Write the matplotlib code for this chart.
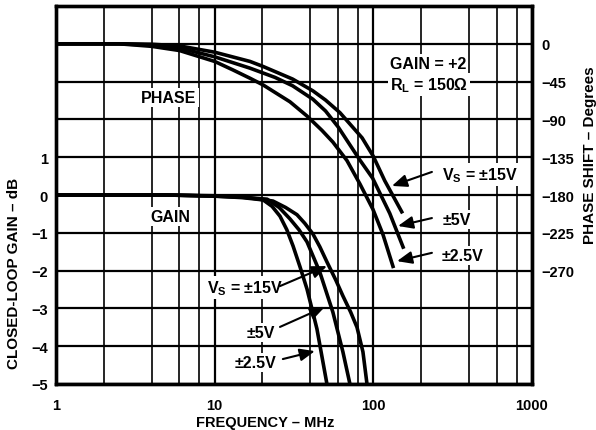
import matplotlib
matplotlib.use('Agg')
import matplotlib.pyplot as plt
import numpy as np

plt.rcParams['font.family'] = ['Liberation Sans', 'DejaVu Sans']
plt.rcParams['font.weight'] = 'bold'
plt.rcParams['mathtext.fontset'] = 'custom'
plt.rcParams['mathtext.bf'] = 'Liberation Sans:bold'
plt.rcParams['mathtext.rm'] = 'Liberation Sans:bold'

# gain curves (MHz, dB)
f_g15 = [1, 5, 10, 15, 23.3, 28, 33, 37, 41.6, 46, 51, 58, 64.3, 72, 78.9, 86, 91.2]
g_g15 = [0, 0, -0.02, -0.05, -0.16, -0.33, -0.52, -0.75, -1.03, -1.37, -1.77, -2.25, -2.67, -3.1, -3.5, -4.15, -5.0]
f_g5 = [1, 5, 10, 15, 21.4, 25.5, 29.8, 34, 38.2, 46, 55.6, 64.3, 71.2]
g_g5 = [0, 0, -0.03, -0.06, -0.11, -0.33, -0.63, -0.92, -1.24, -2.04, -3.10, -4.15, -5.0]
f_g25 = [1, 5, 10, 15, 20.2, 23, 25.8, 28.5, 31.2, 34.5, 38.2, 44.1, 51]
g_g25 = [0, 0, -0.03, -0.07, -0.13, -0.3, -0.56, -0.92, -1.35, -1.9, -2.49, -3.54, -5.0]

# phase curves (MHz, degrees)
f_p15 = [1, 2.5, 4, 6, 10, 16.7, 20.2, 31, 41.6, 50, 61.6, 85, 100, 118, 151]
p_p15 = [0, 0, -0.5, -2.5, -10, -21, -27, -42, -56, -67, -82, -112, -134, -163, -200]
f_p5 = [1, 2.5, 4, 6, 10, 16.7, 24, 31, 41.6, 50, 60, 82, 99, 127, 154]
p_p5 = [0, 0, -1.5, -5, -15.5, -29, -40, -50, -66, -80, -99, -138, -160, -202, -242]
f_p25 = [1, 2.5, 4, 6, 10, 13, 16.7, 20.2, 29.8, 38.2, 47.4, 55.6, 68.2, 82.4, 99.4, 115, 133]
p_p25 = [0, 0, -3, -8, -21, -31, -41, -49, -69, -86, -103, -117, -139, -167, -197, -227, -265]

gain_ticks = [-5, -4, -3, -2, -1, 0, 1, 2, 3, 4, 5]
gain_labels = ['\u22125', '\u22124', '\u22123', '\u22122', '\u22121', '0', '1', '', '', '', '']
phase_ticks = [0, -45, -90, -135, -180, -225, -270]
phase_labels = ['0', '\u221245', '\u221290', '\u2212135', '\u2212180', '\u2212225', '\u2212270']
x_major = [1, 10, 100, 1000]
x_minor = [2, 4, 6, 8, 20, 40, 60, 80, 200, 400, 600, 800]

fig = plt.figure(figsize=(5.96, 4.31), dpi=100)
ax = fig.add_axes([56/596, 1-385/431, 476/596, 378/431])
ax.set_xscale('log')
ax.set_xlim(1, 1000)
ax.set_ylim(-5, 5)
ax.xaxis.set_major_locator(matplotlib.ticker.FixedLocator(x_major))
ax.xaxis.set_minor_locator(matplotlib.ticker.FixedLocator(x_minor))
ax.set_xticklabels(['1', '10', '100', '1000'], fontsize=10.5, fontweight='bold')
ax.xaxis.set_minor_formatter(matplotlib.ticker.NullFormatter())
ax.set_yticks(gain_ticks)
ax.set_yticklabels(gain_labels, fontsize=10.5, fontweight='bold')
ax.tick_params(which='both', length=0)
ax.tick_params(axis='x', pad=10)
ax.tick_params(axis='y', pad=6)
ax.grid(which='major', color='k', lw=1.6)
ax.grid(which='minor', axis='x', color='k', lw=1.2)
ax.set_axisbelow(True)
for s in ax.spines.values():
    s.set_linewidth(2.4)

lw = 2.6
ax.plot(f_g15, g_g15, color='k', lw=lw, zorder=4, solid_joinstyle='round')
ax.plot(f_g5, g_g5, color='k', lw=lw, zorder=4, solid_joinstyle='round')
ax.plot(f_g25, g_g25, color='k', lw=lw, zorder=4, solid_joinstyle='round')

ax2 = ax.twinx()
ax2.set_ylim(-405, 45)
ax2.set_yticks(phase_ticks)
ax2.set_yticklabels(phase_labels, fontsize=10.5, fontweight='bold')
ax2.tick_params(length=0, pad=7)
for s in ax2.spines.values():
    s.set_linewidth(2.4)
ax2.plot(f_p15, p_p15, color='k', lw=lw, solid_joinstyle='round')
ax2.plot(f_p5, p_p5, color='k', lw=lw, solid_joinstyle='round')
ax2.plot(f_p25, p_p25, color='k', lw=lw, solid_joinstyle='round')

box = dict(facecolor='white', edgecolor='none', pad=1.5)
tk = dict(fontsize=11.5, fontweight='bold', zorder=3, bbox=box)
vs = 'V$_{\\mathbf{S}}$ = \u00b115V'
ax.text(5.15, 2.59, 'PHASE', ha='center', va='center', **tk)
ax.text(5.23, -0.56, 'GAIN', ha='center', va='center', **tk)
ax.text(127, 3.36, 'GAIN = +2', ha='left', va='baseline', **tk)
ax.text(127, 2.80, 'R$_{\\mathbf{L}}$ = 150\u03a9', ha='left', va='baseline', **tk)

ax.text(270, 0.42, vs, ha='left', va='baseline', **tk)
ax.text(275, -0.77, '\u00b15V', ha='left', va='baseline', **tk)
ax.text(270, -1.72, '\u00b12.5V', ha='left', va='baseline', **tk)
ax.text(8.94, -2.57, vs, ha='left', va='baseline', **tk)
ax.text(16.0, -3.76, '\u00b15V', ha='left', va='baseline', **tk)
ax.text(13.4, -4.55, '\u00b12.5V', ha='left', va='baseline', **tk)

arrows = [((131, 0.24), (234, 0.61)),
          ((143, -0.82), (234, -0.61)),
          ((141, -1.75), (234, -1.53)),
          ((51, -1.88), (25.8, -2.41)),
          ((49.5, -2.96), (25.8, -3.49)),
          ((42.8, -4.13), (26.9, -4.34))]
for tip, tail in arrows:
    ax.annotate('', xy=tip, xytext=tail, zorder=5,
                arrowprops=dict(arrowstyle='-|>,head_length=0.6,head_width=0.25',
                                color='k', lw=1.5, mutation_scale=15,
                                shrinkA=0, shrinkB=0))

fig.text(14/596, 1-273/431, 'CLOSED-LOOP GAIN \u2013 dB', rotation=90, ha='center', va='center',
         fontsize=11, fontweight='bold')
fig.text(590/596, 1-155/431, 'PHASE SHIFT \u2013 Degrees', rotation=90, ha='center', va='center',
         fontsize=11, fontweight='bold')
fig.text(265/596, 1-423/431, 'FREQUENCY \u2013 MHz', ha='center', va='center',
         fontsize=10.5, fontweight='bold')

fig.savefig('out.png', dpi=100)
